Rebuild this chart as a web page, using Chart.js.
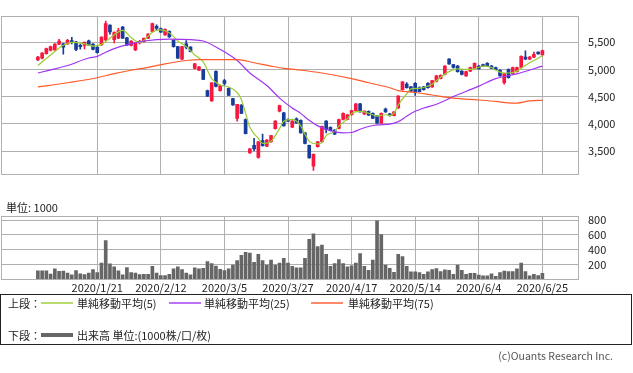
<!DOCTYPE html>
<html>
<head>
<meta charset="utf-8">
<script src="https://cdn.jsdelivr.net/npm/chart.js@4.4.1/dist/chart.umd.min.js"></script>
<style>
  body { margin: 0; background: #fff; width: 633px; height: 373px; position: relative; overflow: hidden;
         font-family: "Noto Sans CJK JP", "Noto Sans", sans-serif; color: #222; }
  #pw { position: absolute; left: 0; top: 0; width: 633px; height: 191px; }
  #vw { position: absolute; left: 0; top: 200px; width: 633px; height: 100px; }
  .unit { position: absolute; left: 6px; top: 200px; font-size: 11px; line-height: 14px; }
  #legend { position: absolute; left: 0; top: 294px; width: 630px; height: 49px; border: 1px solid #222; font-size: 11px; }
  #legend span { position: absolute; line-height: 14px; white-space: nowrap; }
  #legend svg { position: absolute; }
  .copy { position: absolute; right: 20px; top: 349px; font-size: 10.5px; color: #555; line-height: 14px; }
</style>
</head>
<body>
<div id="pw"><canvas id="chart-price" width="633" height="191"></canvas></div>
<div id="vw"><canvas id="chart-volume" width="633" height="100"></canvas></div>
<div class="unit">単位: 1000</div>
<div id="legend">
  <span style="left:7px;top:1px">上段：</span>
  <svg style="left:40px;top:6px" width="32" height="4"><line x1="0" y1="2" x2="32" y2="2" stroke="#9acd32" stroke-width="1.4"/></svg>
  <span style="left:76px;top:1px">単純移動平均(5)</span>
  <svg style="left:168px;top:6px" width="32" height="4"><line x1="0" y1="2" x2="32" y2="2" stroke="#a035f5" stroke-width="1.4"/></svg>
  <span style="left:203px;top:1px">単純移動平均(25)</span>
  <svg style="left:310px;top:6px" width="32" height="4"><line x1="0" y1="2" x2="32" y2="2" stroke="#ff5a2a" stroke-width="1.4"/></svg>
  <span style="left:347px;top:1px">単純移動平均(75)</span>
  <span style="left:7px;top:33px">下段：</span>
  <svg style="left:40px;top:37px" width="32" height="6"><line x1="0" y1="3" x2="32" y2="3" stroke="#666" stroke-width="4"/></svg>
  <span style="left:76px;top:33px">出来高 単位:(1000株/口/枚)</span>
</div>
<div class="copy">(c)Ouants Research Inc.</div>
<script>
  "use strict";

  // 日足 (2019/12/25 〜 2020/6/25, 120本)
  const open = [
    5174, 5205, 5291, 5348, 5358, 5465, 5470, 5470, 5532, 5506,
    5445, 5440, 5527, 5465, 5409, 5450, 5542, 5813, 5547, 5573,
    5777, 5583, 5440, 5358, 5486, 5511, 5573, 5700, 5793, 5752,
    5634, 5700, 5537, 5419, 5189, 5470, 5409, 5020, 4985, 4995,
    4611, 4422, 4964, 4611, 4795, 4652, 4463, 4100, 4346, 4080,
    3466, 3604, 3384, 3691, 3589, 3671, 3911, 4233, 4202, 4080,
    3936, 4090, 4064, 3834, 3604, 3221, 3579, 3671, 4049, 3936,
    3885, 3916, 4080, 4080, 4167, 4243, 4366, 4182, 4228, 4192,
    4141, 4013, 4269, 4182, 4151, 4294, 4627, 4729, 4678, 4744,
    4663, 4678, 4744, 4678, 4780, 4831, 4908, 5189, 5087, 5061,
    4969, 4882, 4969, 5020, 5061, 5087, 5112, 5061, 5036, 4985,
    4755, 4995, 4923, 4959, 5036, 5225, 5189, 5225, 5317, 5266,
  ];
  const high = [
    5240, 5310, 5390, 5430, 5475, 5552, 5480, 5552, 5588, 5515,
    5470, 5505, 5540, 5475, 5420, 5600, 5890, 5820, 5690, 5757,
    5790, 5590, 5530, 5495, 5537, 5583, 5660, 5850, 5818, 5760,
    5745, 5710, 5545, 5425, 5425, 5532, 5420, 5110, 5050, 5000,
    4620, 4760, 4975, 4710, 4816, 4660, 4470, 4360, 4355, 4090,
    3545, 3732, 3680, 3809, 3710, 3790, 4060, 4345, 4210, 4090,
    4060, 4110, 4075, 3840, 3610, 3450, 3680, 3960, 4060, 3945,
    3895, 4085, 4200, 4170, 4250, 4370, 4375, 4240, 4240, 4200,
    4150, 4200, 4290, 4195, 4225, 4520, 4775, 4760, 4690, 4760,
    4680, 4690, 4760, 4800, 4890, 4900, 5070, 5199, 5095, 5075,
    4980, 4970, 5045, 5120, 5075, 5100, 5125, 5075, 5045, 4995,
    4930, 5010, 5045, 5045, 5250, 5343, 5240, 5317, 5325, 5355,
  ];
  const low = [
    5160, 5195, 5280, 5340, 5350, 5455, 5281, 5460, 5470, 5343,
    5373, 5378, 5440, 5360, 5300, 5440, 5530, 5650, 5486, 5565,
    5565, 5440, 5430, 5343, 5470, 5500, 5565, 5690, 5726, 5680,
    5625, 5590, 5410, 5200, 5180, 5378, 5320, 5010, 4975, 4810,
    4500, 4410, 4680, 4600, 4703, 4520, 4340, 4049, 4185, 3815,
    3455, 3500, 3370, 3590, 3580, 3660, 3900, 4220, 3955, 4040,
    3930, 4010, 3830, 3630, 3370, 3144, 3570, 3660, 3834, 3870,
    3800, 3905, 4070, 4070, 4160, 4235, 4212, 4170, 4155, 4095,
    4005, 4005, 4210, 4140, 4145, 4285, 4620, 4655, 4590, 4524,
    4585, 4620, 4655, 4670, 4770, 4825, 4900, 5090, 5025, 4950,
    4900, 4870, 4960, 5010, 5005, 5055, 5055, 5015, 4995, 4875,
    4730, 4840, 4915, 4950, 5030, 5185, 5180, 5215, 5280, 5260,
  ];
  const close = [
    5225, 5302, 5383, 5419, 5465, 5522, 5409, 5537, 5506, 5368,
    5419, 5496, 5445, 5368, 5307, 5593, 5844, 5690, 5675, 5716,
    5573, 5445, 5522, 5486, 5511, 5573, 5650, 5844, 5752, 5685,
    5736, 5598, 5419, 5205, 5419, 5409, 5327, 5102, 5046, 4816,
    4509, 4755, 4688, 4703, 4744, 4524, 4346, 4356, 4192, 3819,
    3538, 3538, 3671, 3599, 3701, 3783, 4049, 4335, 3962, 4049,
    4049, 4013, 3834, 3640, 3374, 3441, 3671, 3952, 3896, 3875,
    3809, 4080, 4192, 4167, 4243, 4366, 4218, 4233, 4161, 4100,
    4013, 4192, 4218, 4151, 4218, 4509, 4770, 4663, 4601, 4576,
    4591, 4627, 4663, 4795, 4882, 4893, 5061, 5102, 5036, 4959,
    4908, 4959, 5036, 5112, 5010, 5061, 5061, 5020, 5000, 4882,
    4923, 4847, 5036, 5036, 5240, 5189, 5225, 5276, 5286, 5348,
  ];
  // 出来高 (1000株)
  const volume = [
    112, 112, 112, 68, 140, 104, 108, 79, 58, 115,
    72, 61, 79, 130, 86, 216, 523, 205, 166, 112,
    58, 155, 86, 79, 61, 65, 65, 173, 79, 47,
    47, 65, 140, 166, 130, 79, 58, 151, 137, 144,
    238, 209, 177, 133, 115, 137, 191, 252, 324, 364,
    353, 227, 335, 252, 191, 259, 191, 216, 281, 216,
    173, 151, 151, 281, 541, 616, 443, 461, 335, 173,
    209, 263, 209, 166, 180, 216, 346, 173, 119, 259,
    793, 605, 191, 144, 90, 335, 306, 173, 97, 97,
    86, 65, 97, 130, 141, 101, 126, 119, 65, 191,
    119, 65, 76, 76, 54, 43, 43, 72, 36, 86,
    108, 101, 101, 137, 216, 101, 43, 65, 47, 76,
  ];

  // 移動平均 (図から読み取った点: 日インデックス / 値)
  const ma5Idx = [0, 3, 6, 8, 11, 13, 15, 17, 20, 22, 24, 25, 27, 29, 31, 33, 35, 37, 39, 40,
    41, 43, 45, 47, 48, 49, 50, 52, 53, 55, 57, 58, 60, 62, 63, 64, 66, 67, 68, 70,
    71, 73, 74, 76, 77, 79, 80, 82, 83, 84, 85, 87, 88, 90, 92, 93, 95, 97, 99, 101,
    103, 105, 107, 108, 110, 111, 113, 114, 116, 118, 119];
  const ma5 = [5072, 5266, 5445, 5496, 5470, 5429, 5460, 5573, 5716, 5583, 5496, 5532, 5685, 5726, 5675, 5522, 5419, 5266, 5138, 4985,
    4831, 4714, 4678, 4576, 4448, 4192, 3936, 3732, 3640, 3681, 3911, 4049, 4080, 3962, 3809, 3681, 3630, 3655, 3783, 3860,
    3962, 4090, 4192, 4228, 4218, 4167, 4141, 4167, 4151, 4192, 4346, 4550, 4642, 4652, 4693, 4729, 4857, 4959, 5010, 5000,
    5010, 5061, 5036, 4985, 4934, 4934, 4969, 5020, 5123, 5205, 5256];
  const ma25Idx = [0, 7, 12, 14, 16, 19, 22, 25, 31, 36, 39, 43, 47, 50, 54, 57, 60, 62, 64, 66,
    69, 72, 74, 76, 78, 80, 83, 85, 87, 89, 91, 94, 98, 104, 108, 113, 119];
  const ma25 = [4934, 5072, 5210, 5240, 5317, 5409, 5470, 5522, 5557, 5547, 5522, 5368, 5164, 4934, 4703, 4473, 4290, 4192, 4064, 3962,
    3875, 3834, 3840, 3900, 3950, 3980, 3995, 4040, 4140, 4230, 4290, 4360, 4499, 4693, 4831, 4918, 5061];
  const ma75Idx = [0, 7, 14, 18, 22, 26, 30, 35, 38, 47, 51, 55, 58, 61, 67, 74, 78, 83, 85, 89,
    93, 98, 104, 108, 111, 113, 116, 119];
  const ma75 = [4678, 4755, 4847, 4923, 4985, 5036, 5102, 5164, 5179, 5179, 5123, 5061, 5020, 4995, 4934, 4831, 4755, 4663, 4611, 4576,
    4530, 4473, 4438, 4412, 4385, 4381, 4422, 4432];

  const tickIdx = [14, 29, 44, 59, 74, 89, 104, 119];
  const tickLabels = ["2020/1/21", "2020/2/12", "2020/3/5", "2020/3/27", "2020/4/17", "2020/5/14", "2020/6/4", "2020/6/25"];
  const priceTicks = [3500, 4000, 4500, 5000, 5500];
  const volTicks = [200, 400, 600, 800];

  const RED = "#f8173f";
  const BLUE = "#173c9a";
  const GRID = "#b0b0b0";
  const X_MIN = -8.7;
  const X_MAX = 127.4;

  Chart.defaults.font.family = '"Noto Sans CJK JP", "Noto Sans", sans-serif';
  Chart.defaults.font.size = 11;
  Chart.defaults.color = "#222";

  const frame = {
    id: "frame",
    afterDraw(chart) {
      const { ctx, chartArea: a } = chart;
      const l = Math.floor(a.left), t = Math.floor(a.top), r = Math.floor(a.right), b = Math.floor(a.bottom);
      ctx.save();
      ctx.strokeStyle = GRID;
      ctx.lineWidth = 1;
      ctx.strokeRect(l + 0.5, t + 0.5, r - l, b - t);
      ctx.restore();
    },
  };

  const pts = (idx, vals) => idx.map((x, i) => ({ x, y: vals[i] }));
  const candleColor = close.map((c, i) => (c >= open[i] ? RED : BLUE));

  function xScale(showLabels) {
    return {
      type: "linear",
      min: X_MIN,
      max: X_MAX,
      offset: false,
      afterBuildTicks: (s) => { s.ticks = tickIdx.map((v) => ({ value: v })); },
      afterFit: (s) => { s.height = showLabels ? 21 : 0; },
      grid: { color: GRID, drawTicks: false, offset: false },
      border: { display: false },
      ticks: {
        display: showLabels,
        autoSkip: false,
        maxRotation: 0,
        minRotation: 0,
        padding: 2,
        color: "#222",
        callback: (v) => tickLabels[tickIdx.indexOf(v)] || "",
      },
    };
  }

  function maLine(data, color) {
    return {
      type: "line",
      data,
      borderColor: color,
      borderWidth: 1.2,
      pointRadius: 0,
      fill: false,
      cubicInterpolationMode: "monotone",
      order: 0,
    };
  }

  new Chart(document.getElementById("chart-price"), {
    type: "bar",
    data: {
      datasets: [
        maLine(pts(ma75Idx, ma75), "#ff5a2a"),
        maLine(pts(ma25Idx, ma25), "#a035f5"),
        maLine(pts(ma5Idx, ma5), "#9acd32"),
        {
          label: "body",
          data: open.map((o, i) => ({ x: i, y: [o, close[i]] })),
          backgroundColor: candleColor,
          barThickness: 3,
          maxBarThickness: 3,
          minBarLength: 1,
          grouped: false,
          order: 1,
        },
        {
          label: "wick",
          data: low.map((l, i) => ({ x: i, y: [l, high[i]] })),
          backgroundColor: candleColor,
          barThickness: 1,
          maxBarThickness: 1,
          grouped: false,
          order: 2,
        },
      ],
    },
    options: {
      responsive: false,
      animation: false,
      layout: { padding: { left: 1, top: 1, right: 0, bottom: 1 } },
      plugins: { legend: { display: false }, tooltip: { enabled: false } },
      scales: {
        x: xScale(false),
        y: {
          position: "right",
          min: 3070,
          max: 5971,
          afterBuildTicks: (s) => { s.ticks = priceTicks.map((v) => ({ value: v })); },
          afterFit: (s) => { s.width = 55; },
          grid: { color: GRID, drawTicks: false },
          border: { display: false },
          ticks: {
            padding: 10,
            color: "#222",
            callback: (v) => v.toLocaleString("en-US"),
          },
        },
      },
    },
    plugins: [frame],
  });

  new Chart(document.getElementById("chart-volume"), {
    type: "bar",
    data: {
      datasets: [
        {
          label: "出来高",
          data: volume.map((v, i) => ({ x: i, y: v })),
          backgroundColor: "#666",
          barThickness: 3,
        },
      ],
    },
    options: {
      responsive: false,
      animation: false,
      layout: { padding: { left: 1, top: 1, right: 0, bottom: 0 } },
      plugins: { legend: { display: false }, tooltip: { enabled: false } },
      scales: {
        x: xScale(true),
        y: {
          position: "right",
          min: 0,
          max: 850,
          afterBuildTicks: (s) => { s.ticks = volTicks.map((v) => ({ value: v })); },
          afterFit: (s) => { s.width = 55; },
          grid: { color: GRID, drawTicks: false },
          border: { display: false },
          ticks: { padding: 10, color: "#222" },
        },
      },
    },
    plugins: [frame],
  });
</script>
</body>
</html>
